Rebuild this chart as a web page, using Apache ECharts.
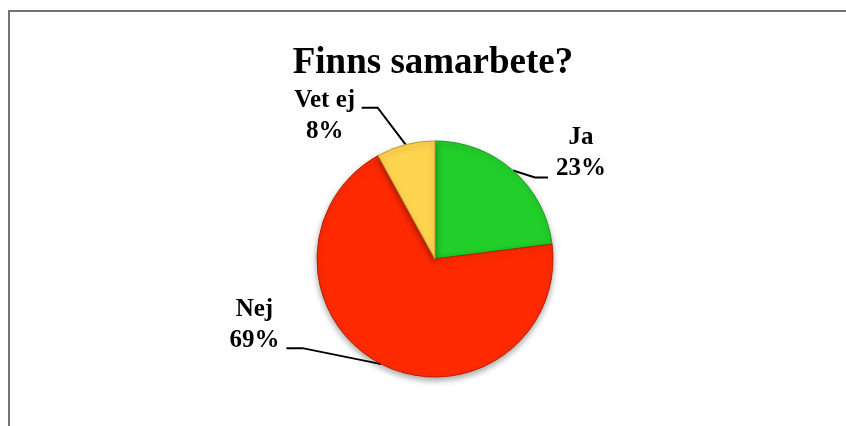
<!DOCTYPE html>
<html>
<head>
<meta charset="utf-8">
<script src="https://cdn.jsdelivr.net/npm/echarts@6/dist/echarts.min.js"></script>
<style>
  html, body { margin: 0; padding: 0; background: #fff; }
  #chart { position: absolute; left: 0; top: 0; width: 846px; height: 426px; }
  #frame { position: absolute; left: 8px; top: 10px; width: 846px; height: 430px;
           border-top: 2px solid #737373; border-left: 2px solid #737373; pointer-events: none; }
</style>
</head>
<body>
<div id="chart"></div>
<div id="frame"></div>
<script>
const titleText = 'Finns samarbete?';
const categories = ['Ja', 'Nej', 'Vet ej'];
const values = [23, 69, 8];
const sliceColors = ['#22CF2A', '#FF2A00', '#FFD44F'];
const sliceBorders = ['#179A1E', '#B81E00', '#C49A2A'];

// label placement relative to the library-computed edge anchor (style only)
const labelPlacement = [
  { dx: 68, dy: -17, ex: -33, ey: 24, ox: -13 },
  { dx: -127, dy: -39, ex: 32, ey: 23, ox: 16 },
  { dx: -81, dy: -29, ex: 37, ey: -8, ox: 16 }
];

const chart = echarts.init(document.getElementById('chart'), null, { renderer: 'canvas' });
const seriesData = categories.map((c, i) => ({
  name: c,
  value: values[i],
  itemStyle: { color: sliceColors[i], borderColor: sliceBorders[i] }
}));

chart.setOption({
  animation: false,
  title: {
    text: titleText,
    left: 428,
    top: 40,
    textAlign: 'center',
    textStyle: { fontFamily: 'Liberation Serif', fontWeight: 'bold', fontSize: 37, color: '#000' }
  },
  series: [{
    type: 'pie',
    center: [435, 259],
    radius: 118,
    startAngle: 90,
    clockwise: true,
    data: seriesData,
    itemStyle: {
      borderWidth: 1,
      shadowBlur: 6,
      shadowOffsetY: 3,
      shadowColor: 'rgba(0,0,0,0.35)'
    },
    emphasis: { disabled: true },
    label: {
      show: true,
      position: 'outside',
      formatter: '{b}\n{d}%',
      fontFamily: 'Liberation Serif',
      fontWeight: 'bold',
      fontSize: 25,
      lineHeight: 31,
      color: '#000',
      align: 'center'
    },
    labelLine: {
      show: true,
      length: 20,
      length2: 15,
      lineStyle: { color: '#000', width: 2 }
    },
    labelLayout: function (p) {
      const pl = labelPlacement[p.dataIndex];
      const pts = p.labelLinePoints;
      if (!pts || !pts.length) return {};
      const a = pts[0];
      const cx = a[0] + pl.dx, cy = a[1] + pl.dy;
      const end = [cx + pl.ex, cy + pl.ey];
      const elbow = [end[0] + pl.ox, end[1]];
      return {
        x: cx, y: cy, align: 'center', verticalAlign: 'middle',
        labelLinePoints: [a, elbow, end]
      };
    }
  }]
});
</script>
</body>
</html>
